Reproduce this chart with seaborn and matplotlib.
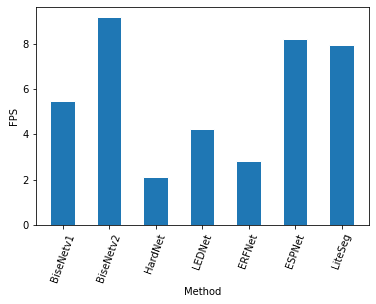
import pandas as pd
import numpy as np
import matplotlib
matplotlib.use('Agg')
import matplotlib.pyplot as plt
import seaborn as sns

# Values
methods = ['BiseNetv1', 'BiseNetv2', 'HardNet', 'LEDNet', 'ERFNet', 'ESPNet', 'LiteSeg']
fps = [5.47, 9.18, 2.12, 4.24, 2.82, 8.21, 7.94]

df = pd.DataFrame({'Method': methods, 'FPS': fps})

sns.set_style('ticks', {'text.color': 'black', 'axes.labelcolor': 'black',
                        'xtick.color': 'black', 'ytick.color': 'black',
                        'axes.edgecolor': 'black'})
plt.rcParams['font.family'] = ['DejaVu Sans']
plt.rcParams['font.size'] = 10

fig = plt.figure(figsize=(376 / 72, 304 / 72), dpi=72)
ax = fig.add_axes([36 / 376, 1 - 225 / 304, 333 / 376, 218 / 304])

sns.barplot(data=df, x='Method', y='FPS', color='#1f77b4', saturation=1, width=0.53, ax=ax)

ax.set_xlim(-0.57, 6.59)
ax.set_ylim(0, 9.62)
ax.set_yticks([0, 2, 4, 6, 8])
ax.tick_params(axis='x', labelrotation=70)
ax.set_xlabel('Method')
ax.set_ylabel('FPS')
for side in ['top', 'right', 'left', 'bottom']:
    ax.spines[side].set_visible(True)
    ax.spines[side].set_linewidth(0.8)

fig.savefig('out.png', dpi=72, facecolor='white')
